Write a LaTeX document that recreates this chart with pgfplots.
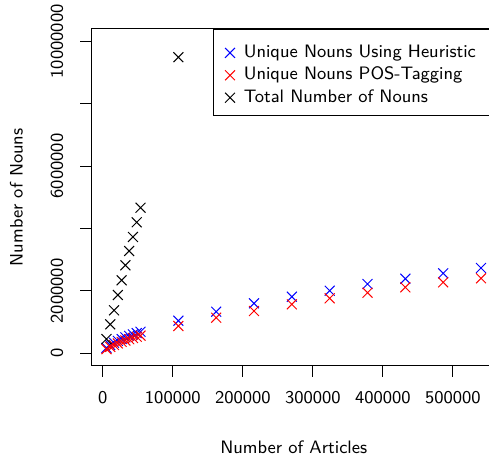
\documentclass[border=0pt]{standalone}
\usepackage{pgfplots}
\pgfplotsset{compat=1.18}
\begin{document}
\begin{tikzpicture}
\pgfplotsset{every axis/.append style={font=\sffamily\fontsize{9}{10.8}\selectfont}}
\begin{axis}[
  at={(0,0)}, anchor=south west,
  scale only axis, width=202.25pt, height=168.5pt,
  xmin=-15984, xmax=561384, ymin=-400000, ymax=10400000,
  axis line style={line width=0.5pt},
  tick style={line width=0.5pt, black},
  tick align=outside, major tick length=5.5pt,
  xtick pos=left, ytick pos=left,
  scaled ticks=false,
  xtick={0,100000,200000,300000,400000,500000},
  xticklabels={0,100000,200000,300000,400000,500000},
  ytick={0,2000000,4000000,6000000,8000000,10000000},
  yticklabels={0,2000000,{},6000000,{},10000000},
  xticklabel style={anchor=center, yshift=-10.5pt},
  yticklabel style={xshift=-11.75pt, rotate=90, anchor=center},
  xlabel={Number of Articles}, ylabel={Number of Nouns},
  every axis x label/.style={at={([yshift=-40.6pt]axis description cs:0.5,0)}, anchor=center},
  every axis y label/.style={at={([xshift=-37.5pt]axis description cs:0,0.5)}, anchor=center, rotate=90},
  legend image code/.code={\draw[#1] plot coordinates {(0pt,2.3pt)};},
  legend style={at={(1,1)}, anchor=north east, draw=black, line width=0.5pt,
    inner xsep=5.85pt, inner ysep=6.1pt, row sep=2.7pt, column sep=4.4pt,
    nodes={inner sep=0pt, text height=8pt, text depth=0.5pt, anchor=base west},
    font=\sffamily\fontsize{9}{10.8}\selectfont},
  legend cell align=left,
]
\addplot[only marks, mark=x, mark size=3.5pt, color=blue, mark options={line width=0.5pt}] coordinates {
(5400,175000) (10800,264000) (16200,337000) (21600,400000) (27000,457000)
(32400,509000) (37800,558000) (43200,605000) (48600,649000) (54000,691000)
(108000,1045000) (162000,1333000) (216000,1602000) (270000,1814000) (324000,2006000)
(378000,2221000) (432000,2391000) (486000,2564000) (540000,2734000)
};
\addlegendentry{\makebox[120pt][l]{Unique Nouns Using Heuristic}}
\addplot[only marks, mark=x, mark size=3.5pt, color=red, mark options={line width=0.5pt}] coordinates {
(5400,133000) (10800,206000) (16200,266000) (21600,318000) (27000,366000)
(32400,411000) (37800,453000) (43200,492000) (48600,530000) (54000,566000)
(108000,875000) (162000,1141000) (216000,1356000) (270000,1570000) (324000,1763000)
(378000,1942000) (432000,2115000) (486000,2276000) (540000,2404000)
};
\addlegendentry{Unique Nouns POS-Tagging}
\addplot[only marks, mark=x, mark size=3.5pt, color=black, mark options={line width=0.5pt}] coordinates {
(5400,458000) (10800,929000) (16200,1378000) (21600,1869000) (27000,2340000)
(32400,2821000) (37800,3279000) (43200,3728000) (48600,4199000) (54000,4667000)
(108000,9490000)
};
\addlegendentry{Total Number of Nouns}
\end{axis}
\pgfresetboundingbox
\useasboundingbox (-45.75pt,-44.6pt) rectangle (198.75pt,182.9pt);
\end{tikzpicture}
\end{document}
